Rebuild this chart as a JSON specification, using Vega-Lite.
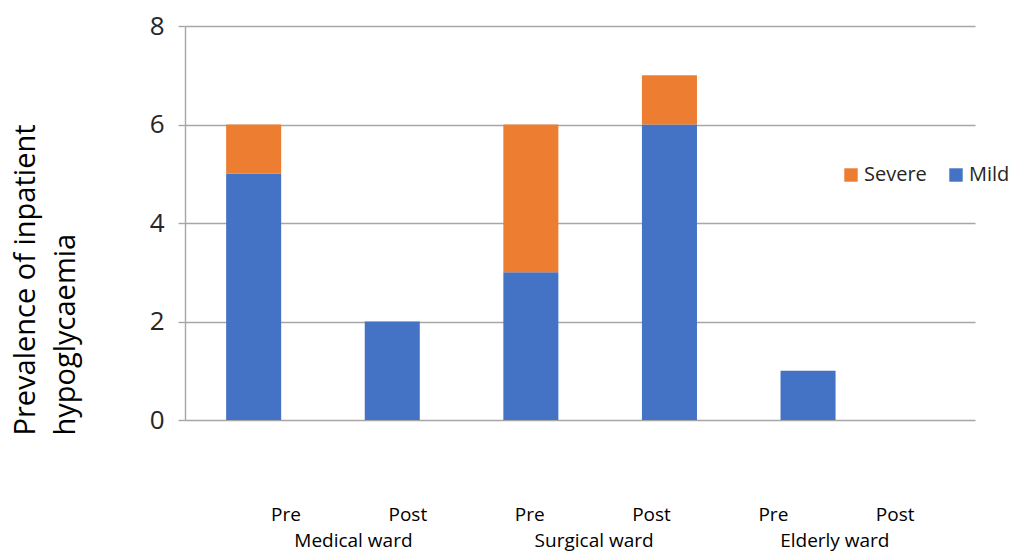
{
  "$schema": "https://vega.github.io/schema/vega-lite/v6.json",
  "width": 790,
  "height": 394,
  "autosize": {"type": "none"},
  "padding": {"left": 185, "top": 26, "right": 40, "bottom": 131},
  "background": "white",
  "config": {"view": {"stroke": null}, "font": "Open Sans"},
  "data": {
    "values": [
      {"ward": "Medical ward", "period": "Pre", "slot": "Medical ward|Pre", "severity": "Mild", "count": 5},
      {"ward": "Medical ward", "period": "Pre", "slot": "Medical ward|Pre", "severity": "Severe", "count": 1},
      {"ward": "Medical ward", "period": "Post", "slot": "Medical ward|Post", "severity": "Mild", "count": 2},
      {"ward": "Medical ward", "period": "Post", "slot": "Medical ward|Post", "severity": "Severe", "count": 0},
      {"ward": "Surgical ward", "period": "Pre", "slot": "Surgical ward|Pre", "severity": "Mild", "count": 3},
      {"ward": "Surgical ward", "period": "Pre", "slot": "Surgical ward|Pre", "severity": "Severe", "count": 3},
      {"ward": "Surgical ward", "period": "Post", "slot": "Surgical ward|Post", "severity": "Mild", "count": 6},
      {"ward": "Surgical ward", "period": "Post", "slot": "Surgical ward|Post", "severity": "Severe", "count": 1},
      {"ward": "Elderly ward", "period": "Pre", "slot": "Elderly ward|Pre", "severity": "Mild", "count": 1},
      {"ward": "Elderly ward", "period": "Pre", "slot": "Elderly ward|Pre", "severity": "Severe", "count": 0},
      {"ward": "Elderly ward", "period": "Post", "slot": "Elderly ward|Post", "severity": "Mild", "count": 0},
      {"ward": "Elderly ward", "period": "Post", "slot": "Elderly ward|Post", "severity": "Severe", "count": 0}
    ]
  },
  "layer": [
    {
      "mark": {"type": "bar"},
      "encoding": {
        "x": {
          "field": "slot", "type": "nominal", "sort": null,
          "scale": {"type": "band", "paddingInner": 0.603, "paddingOuter": 0.1515, "align": 0.98},
          "axis": null
        },
        "y": {
          "field": "count", "type": "quantitative", "stack": "zero",
          "scale": {"domain": [0, 8], "nice": false},
          "axis": {
            "values": [0, 2, 4, 6, 8],
            "grid": true, "gridColor": "#a6a6a6", "gridWidth": 1.4,
            "domainColor": "#a6a6a6", "domainWidth": 1.4,
            "tickColor": "#a6a6a6", "tickSize": 7, "tickWidth": 1.4,
            "labelFont": "Open Sans", "labelFontSize": 26, "labelColor": "#262626", "labelPadding": 14,
            "title": ["Prevalence of  inpatient", "hypoglycaemia"],
            "titleFont": "Open Sans", "titleFontSize": 29, "titleFontWeight": "normal", "titleColor": "#000000",
            "titleAngle": -90, "titleAlign": "left", "titleBaseline": "alphabetic",
            "titleX": -151, "titleY": 409, "titleLineHeight": 40
          }
        },
        "color": {
          "field": "severity", "type": "nominal",
          "scale": {"domain": ["Severe", "Mild"], "range": ["#ED7D31", "#4472C4"]},
          "legend": {
            "orient": "none", "legendX": 656, "legendY": 139, "direction": "horizontal",
            "title": null, "symbolType": "square", "symbolSize": 180, "symbolStrokeWidth": 0,
            "labelFont": "Open Sans", "labelFontSize": 20, "labelColor": "#262626",
            "labelOffset": 3, "columnPadding": 19, "padding": 0
          }
        },
        "order": {"field": "severity", "sort": "ascending"}
      }
    },
    {
      "mark": {"type": "point", "opacity": 0},
      "encoding": {
        "x": {
          "field": "slot", "type": "nominal", "sort": null,
          "scale": {"type": "band", "paddingInner": 0, "paddingOuter": 0.242, "align": 0.68},
          "axis": {
            "orient": "bottom", "labelExpr": "split(datum.value, '|')[1]",
            "ticks": false, "domain": false, "grid": false, "labelAngle": 0,
            "labelPadding": 100, "labelBaseline": "alphabetic",
            "labelFont": "Open Sans", "labelFontSize": 19, "labelColor": "#000000", "title": null
          }
        },
        "y": {"field": "count", "type": "quantitative"}
      }
    },
    {
      "mark": {"type": "point", "opacity": 0},
      "encoding": {
        "x": {
          "field": "ward", "type": "nominal", "sort": null,
          "scale": {"type": "band", "paddingInner": 0, "paddingOuter": 0.141, "align": 0.708},
          "axis": {
            "orient": "bottom",
            "ticks": false, "domain": false, "grid": false, "labelAngle": 0,
            "labelPadding": 126, "labelBaseline": "alphabetic",
            "labelFont": "Open Sans", "labelFontSize": 19, "labelColor": "#000000", "title": null
          }
        },
        "y": {"field": "count", "type": "quantitative"}
      }
    }
  ],
  "resolve": {"scale": {"x": "independent"}, "axis": {"x": "independent"}}
}
